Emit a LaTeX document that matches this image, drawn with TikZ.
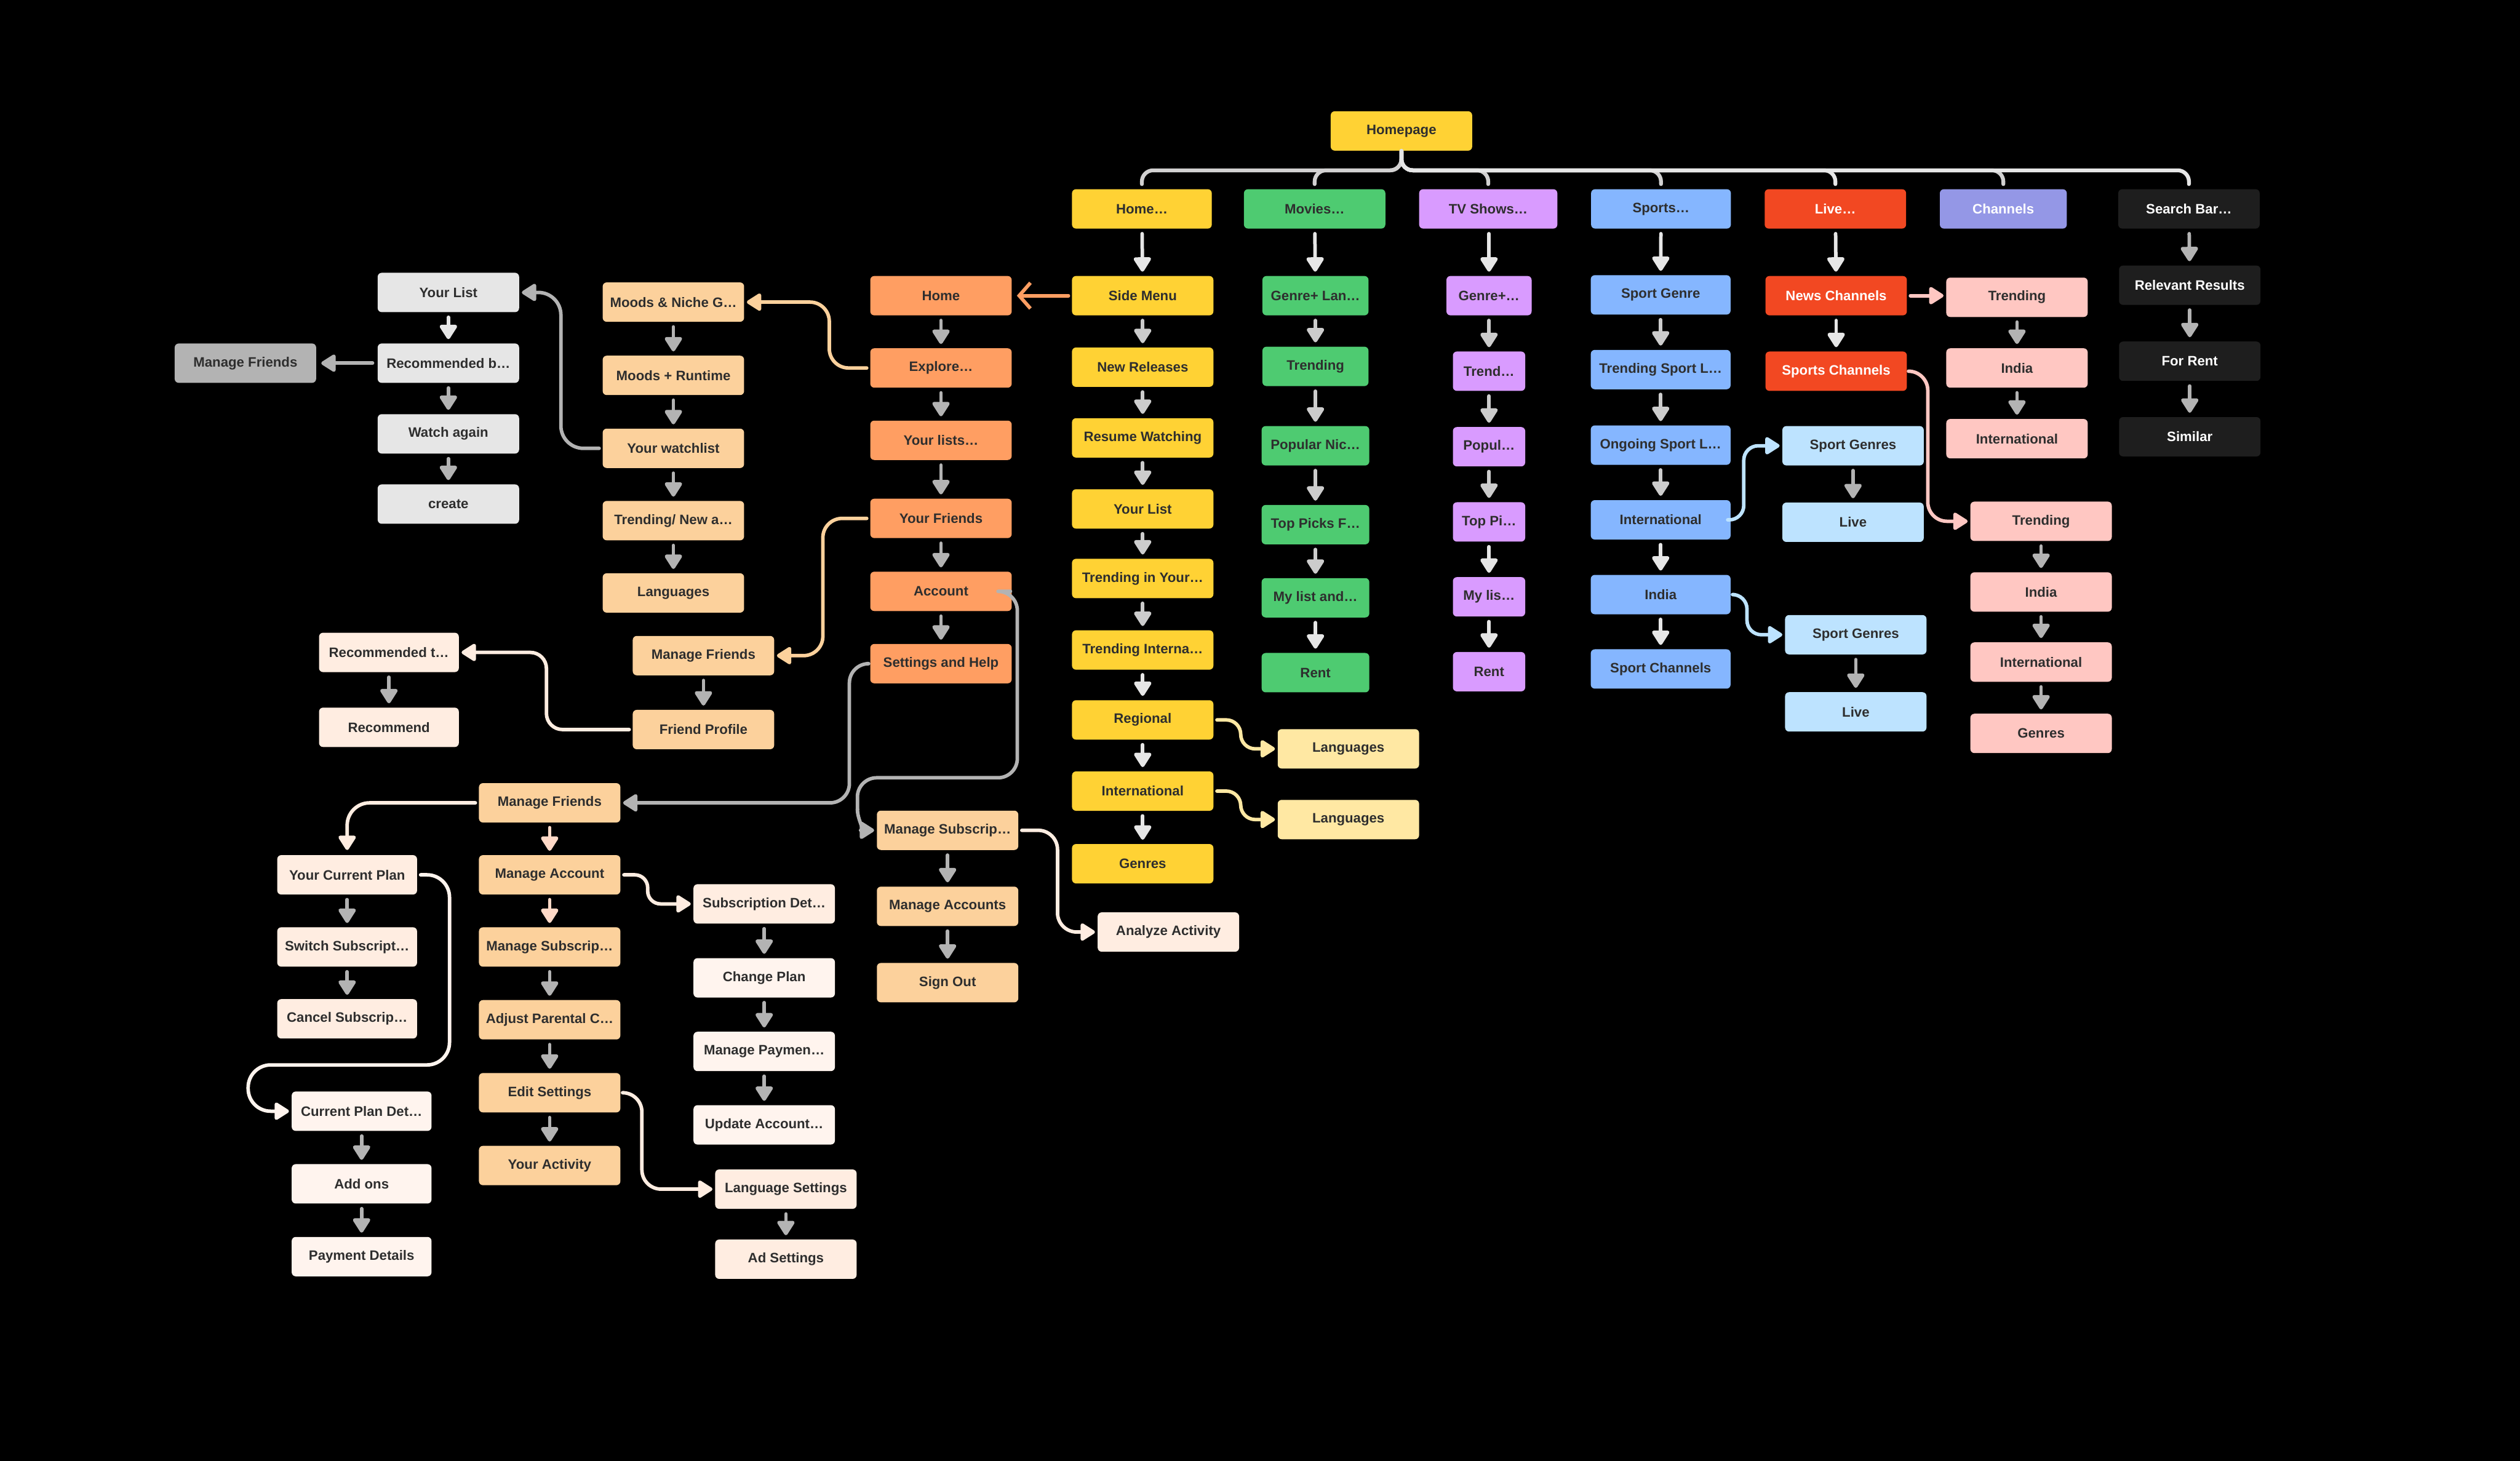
\documentclass[tikz,border=0pt]{standalone}
\usepackage{fontspec}
\setmainfont{Liberation Sans}
\usetikzlibrary{arrows.meta}
\definecolor{cYel}{HTML}{FFD234}
\definecolor{cGrn}{HTML}{4ECB71}
\definecolor{cPur}{HTML}{D99BFF}
\definecolor{cBlu}{HTML}{85B6FF}
\definecolor{cRed}{HTML}{F24822}
\definecolor{cChn}{HTML}{9497E6}
\definecolor{cDrk}{HTML}{1E1E1E}
\definecolor{cOra}{HTML}{FF9E62}
\definecolor{cPch}{HTML}{FCD19C}
\definecolor{cLpc}{HTML}{FFEDE1}
\definecolor{cWpc}{HTML}{FFF4EE}
\definecolor{cLyl}{HTML}{FFE8A3}
\definecolor{cLbl}{HTML}{BDE3FF}
\definecolor{cPnk}{HTML}{FFC7C2}
\definecolor{cLgr}{HTML}{E6E6E6}
\definecolor{cMgr}{HTML}{B3B3B3}
\definecolor{cTxt}{HTML}{2E2E2E}
\definecolor{aA}{HTML}{E6E6E6}
\definecolor{aB}{HTML}{CCCCCC}
\definecolor{aC}{HTML}{B3B3B3}
\definecolor{aP}{HTML}{FFD9C7}
\definecolor{trA}{HTML}{D2D1D1}
\definecolor{trB}{HTML}{E6E6E6}
\newcommand\bxfont{\fontsize{8.5}{9}\selectfont\bfseries}
\tikzset{
 bx/.style={rounded corners=2.5pt, minimum height=24.5pt, inner sep=0pt, font=\bxfont, text=cTxt},
 ln/.style={line width=2.2pt, line cap=round, line join=round},
 tip/.style={-{Triangle[length=10pt,width=12pt,round]}},
 va/.style={ln, tip, shorten <=3pt, shorten >=2.5pt, color=#1},
 cv/.style={ln, tip, rounded corners=#1, shorten <=2pt, shorten >=1.5pt},
 tree/.style={line width=2.4pt, line cap=round, rounded corners=7pt, color=#1},
}
\begin{document}
\begin{tikzpicture}[x=1pt,y=-1pt]
\fill[black] (0,0) rectangle (1568,909);
\useasboundingbox (0,0) rectangle (1568,909);

% ---------- top row ----------
\node[bx, fill=cYel, minimum width=88pt] (hp) at (872,81.5) {Homepage};
\node[bx, fill=cYel, minimum width=87pt] (t1) at (710.5,130) {Home…};
\node[bx, fill=cGrn, minimum width=88pt] (t2) at (818,130) {Movies…};
\node[bx, fill=cPur, minimum width=86pt] (t3) at (926,130) {TV Shows…};
\node[bx, fill=cBlu, minimum width=87pt] (t4) at (1033.5,130) {Sports…};
\node[bx, fill=cRed, minimum width=88pt, text=white] (t5) at (1142,130) {Live…};
\node[bx, fill=cChn, minimum width=79pt, text=white] (t6) at (1246.5,130) {Channels};
\node[bx, fill=cDrk, minimum width=88pt, text=white] (t7) at (1362,130) {Search Bar…};

\draw[tree=trA] (hp.south) -- (872,106) -| ([yshift=3pt]t1.north);
\draw[tree=trA] (hp.south) -- (872,106) -| ([yshift=3pt]t2.north);
\draw[tree=trA] (hp.south) -- (872,106) -| ([yshift=3pt]t3.north);
\draw[tree=trA] (hp.south) -- (872,106) -| ([yshift=3pt]t4.north);
\draw[tree=trB] (hp.south) -- (872,106) -| ([yshift=3pt]t5.north);
\draw[tree=trA] (hp.south) -- (872,106) -| ([yshift=3pt]t6.north);
\draw[tree=trB] (hp.south) -- (872,106) -| ([yshift=3pt]t7.north);

% ---------- Home column ----------
\node[bx, fill=cYel, minimum width=88pt] (sm) at (711,184) {Side Menu};
\node[bx, fill=cYel, minimum width=88pt] (nr) at (711,228.5) {New Releases};
\node[bx, fill=cYel, minimum width=88pt] (rw) at (711,272.5) {Resume Watching};
\node[bx, fill=cYel, minimum width=88pt] (ylst) at (711,316.7) {Your List};
\node[bx, fill=cYel, minimum width=88pt] (tiy) at (711,360) {Trending in Your…};
\node[bx, fill=cYel, minimum width=88pt] (tin) at (711,404.5) {Trending Interna…};
\node[bx, fill=cYel, minimum width=88pt] (reg) at (711,448) {Regional};
\node[bx, fill=cYel, minimum width=88pt] (intl) at (711,492.3) {International};
\node[bx, fill=cYel, minimum width=88pt] (gen) at (711,537.5) {Genres};
\node[bx, fill=cLyl, minimum width=88pt] (lg1) at (839,466) {Languages};
\node[bx, fill=cLyl, minimum width=88pt] (lg2) at (839,510) {Languages};

\draw[va=aA] (t1) -- (sm);
\draw[va=aB] (sm) -- (nr);
\draw[va=aB] (nr) -- (rw);
\draw[va=aB] (rw) -- (ylst);
\draw[va=aB] (ylst) -- (tiy);
\draw[va=aB] (tiy) -- (tin);
\draw[va=aA] (tin) -- (reg);
\draw[va=aA] (reg) -- (intl);
\draw[va=aA] (intl) -- (gen);
\draw[cv=9pt, color=cLyl] (reg.east) -- (772,448) -- (772,466) -- (lg1.west);
\draw[cv=9pt, color=cLyl] (intl.east) -- (772,492.3) -- (772,510) -- (lg2.west);

% ---------- Side menu (orange) ----------
\node[bx, fill=cOra, minimum width=88pt] (oh) at (585.5,184) {Home};
\node[bx, fill=cOra, minimum width=88pt] (exp) at (585.5,229) {Explore…};
\node[bx, fill=cOra, minimum width=88pt] (yls) at (585.5,274) {Your lists…};
\node[bx, fill=cOra, minimum width=88pt] (yf) at (585.5,322.6) {Your Friends};
\node[bx, fill=cOra, minimum width=88pt] (acc) at (585.5,368) {Account};
\node[bx, fill=cOra, minimum width=88pt] (sh) at (585.5,413) {Settings and Help};

\draw[ln, color=cOra, -{Straight Barb[length=7pt,width=16pt]}, shorten <=2pt, shorten >=3pt] (sm.west) -- (oh.east);
\draw[va=aC] (oh) -- (exp);
\draw[va=aC] (exp) -- (yls);
\draw[va=aC] (yls) -- (yf);
\draw[va=aC] (yf) -- (acc);
\draw[va=aC] (acc) -- (sh);

% ---------- Moods column ----------
\node[bx, fill=cPch, minimum width=88pt] (mo1) at (419,188) {Moods \& Niche G…};
\node[bx, fill=cPch, minimum width=88pt] (mo2) at (419,233.6) {Moods + Runtime};
\node[bx, fill=cPch, minimum width=88pt] (wl) at (419,279) {Your watchlist};
\node[bx, fill=cPch, minimum width=88pt] (tn) at (419,324) {Trending/ New a…};
\node[bx, fill=cPch, minimum width=88pt] (lng) at (419,369) {Languages};
\draw[cv=12pt, color=cPch] (exp.west) -- (516,229) -- (516,188) -- (mo1.east);
\draw[va=aC] (mo1) -- (mo2);
\draw[va=aC] (mo2) -- (wl);
\draw[va=aC] (wl) -- (tn);
\draw[va=aC] (tn) -- (lng);

% ---------- gray list ----------
\node[bx, fill=cLgr, minimum width=88pt] (gl1) at (279,182) {Your List};
\node[bx, fill=cLgr, minimum width=88pt] (gl2) at (279,226) {Recommended b…};
\node[bx, fill=cLgr, minimum width=88pt] (gl3) at (279,270) {Watch again};
\node[bx, fill=cLgr, minimum width=88pt] (gl4) at (279,313.7) {create};
\node[bx, fill=cMgr, minimum width=88pt] (mfg) at (152.7,226) {Manage Friends};
\draw[va=aA] (gl1) -- (gl2);
\draw[va=aC] (gl2) -- (gl3);
\draw[va=aC] (gl3) -- (gl4);
\draw[ln, tip, color=cMgr, shorten <=3pt, shorten >=3pt] (gl2.west) -- (mfg.east);
\draw[cv=14pt, color=cMgr] (wl.west) -- (349,279) -- (349,182) -- (gl1.east);

% ---------- friends ----------
\node[bx, fill=cPch, minimum width=88pt] (mf1) at (437.7,408) {Manage Friends};
\node[bx, fill=cPch, minimum width=88pt] (fp) at (437.7,454) {Friend Profile};
\node[bx, fill=cLpc, minimum width=87pt] (rt) at (242,406) {Recommended t…};
\node[bx, fill=cLpc, minimum width=87pt] (rec) at (242,452.6) {Recommend};
\draw[cv=12pt, color=cPch] (yf.west) -- (512,322.6) -- (512,408) -- (mf1.east);
\draw[va=aC] (mf1) -- (fp);
\draw[va=aC] (rt) -- (rec);
\draw[cv=10pt, color=cLpc] (fp.west) -- (340,454) -- (340,406) -- (rt.east);

% ---------- account / settings ----------
\node[bx, fill=cPch, minimum width=88pt] (ms1) at (589.6,516.7) {Manage Subscrip…};
\node[bx, fill=cPch, minimum width=88pt] (mac) at (589.6,564) {Manage Accounts};
\node[bx, fill=cPch, minimum width=88pt] (so) at (589.6,611.5) {Sign Out};
\node[bx, fill=cLpc, minimum width=88pt] (aa) at (727,580) {Analyze Activity};
\draw[ln, color=cMgr, rounded corners=12pt, shorten <=1pt] (acc.east) -- (633,368) -- (633,484) -- (533.5,484) -- (533.5,504);
\draw[ln, tip, color=cMgr, shorten >=1.5pt] (533.5,503.5) to[out=-90,in=180] (ms1.west);
\draw[va=aC] (ms1) -- (mac);
\draw[va=aC] (mac) -- (so);
\draw[cv=12pt, color=cLpc] (ms1.east) -- (658,516.7) -- (658,580) -- (aa.west);

% ---------- bottom peach column ----------
\node[bx, fill=cPch, minimum width=88pt] (mf2) at (342,499.6) {Manage Friends};
\node[bx, fill=cPch, minimum width=88pt] (ma) at (342,544.4) {Manage Account};
\node[bx, fill=cPch, minimum width=88pt] (msb) at (342,589.3) {Manage Subscrip…};
\node[bx, fill=cPch, minimum width=88pt] (apc) at (342,634.6) {Adjust Parental C…};
\node[bx, fill=cPch, minimum width=88pt] (es) at (342,680) {Edit Settings};
\node[bx, fill=cPch, minimum width=88pt] (ya) at (342,725.3) {Your Activity};
\draw[cv=12pt, color=cMgr] (sh.west) -- (528.5,413) -- (528.5,499.6) -- (mf2.east);
\draw[va=aP] (mf2) -- (ma);
\draw[va=aP] (ma) -- (msb);
\draw[va=aC] (msb) -- (apc);
\draw[va=aC] (apc) -- (es);
\draw[va=aC] (es) -- (ya);

% ---------- plan column ----------
\node[bx, fill=cLpc, minimum width=87pt] (ycp) at (216,544.4) {Your Current Plan};
\node[bx, fill=cLpc, minimum width=87pt] (ss) at (216,589.3) {Switch Subscript…};
\node[bx, fill=cLpc, minimum width=87pt] (cs) at (216,634) {Cancel Subscrip…};
\node[bx, fill=cWpc, minimum width=87pt] (cpd) at (225,691.5) {Current Plan Det…};
\node[bx, fill=cWpc, minimum width=87pt] (ao) at (225,736.7) {Add ons};
\node[bx, fill=cWpc, minimum width=87pt] (pd) at (225,782) {Payment Details};
\draw[cv=14pt, color=cLpc, shorten >=3pt] (mf2.west) -| (ycp.north);
\draw[va=aC] (ycp) -- (ss);
\draw[va=aC] (ss) -- (cs);
\draw[va=aC] (cpd) -- (ao);
\draw[va=aC] (ao) -- (pd);
\draw[cv=14pt, color=cWpc] (ycp.east) -- (279.7,544.4) -- (279.7,662.7) -- (154.4,662.7) -- (154.4,691.5) -- (cpd.west);

% ---------- subscription column ----------
\node[bx, fill=cLpc, minimum width=88pt] (sd) at (475.5,562.5) {Subscription Det…};
\node[bx, fill=cWpc, minimum width=88pt] (cp) at (475.5,608.5) {Change Plan};
\node[bx, fill=cWpc, minimum width=88pt] (mp) at (475.5,654.3) {Manage Paymen…};
\node[bx, fill=cWpc, minimum width=88pt] (ua) at (475.5,700) {Update Account…};
\node[bx, fill=cLpc, minimum width=88pt] (lset) at (489,740) {Language Settings};
\node[bx, fill=cLpc, minimum width=88pt] (ads) at (489,783.6) {Ad Settings};
\draw[cv=8pt, color=cLpc] (ma.east) -- (403,544.4) -- (403,562.5) -- (sd.west);
\draw[va=aC] (sd) -- (cp);
\draw[va=aC] (cp) -- (mp);
\draw[va=aC] (mp) -- (ua);
\draw[va=aC] (lset) -- (ads);
\draw[cv=12pt, color=cLpc] (es.east) -- (399.4,680) -- (399.4,740) -- (lset.west);

% ---------- Movies ----------
\node[bx, fill=cGrn, minimum width=66pt] (g1) at (818.5,184) {Genre+ Lan…};
\node[bx, fill=cGrn, minimum width=66pt] (g2) at (818.5,228) {Trending};
\node[bx, fill=cGrn, minimum width=67pt] (g3) at (818.5,277.4) {Popular Nic…};
\node[bx, fill=cGrn, minimum width=67pt] (g4) at (818.5,326.5) {Top Picks F…};
\node[bx, fill=cGrn, minimum width=67pt] (g5) at (818.5,372) {My list and…};
\node[bx, fill=cGrn, minimum width=67pt] (g6) at (818.5,418.6) {Rent};
\draw[va=aA] (t2) -- (g1);
\draw[va=aB] (g1) -- (g2);
\draw[va=aB] (g2) -- (g3);
\draw[va=aB] (g3) -- (g4);
\draw[va=aB] (g4) -- (g5);
\draw[va=aA] (g5) -- (g6);

% ---------- TV ----------
\node[bx, fill=cPur, minimum width=53pt] (v1) at (926.5,184) {Genre+…};
\node[bx, fill=cPur, minimum width=45pt] (v2) at (926.5,231) {Trend…};
\node[bx, fill=cPur, minimum width=45pt] (v3) at (926.5,278) {Popul…};
\node[bx, fill=cPur, minimum width=45pt] (v4) at (926.5,324.8) {Top Pi…};
\node[bx, fill=cPur, minimum width=45pt] (v5) at (926.5,371.4) {My lis…};
\node[bx, fill=cPur, minimum width=45pt] (v6) at (926.5,418) {Rent};
\draw[va=aA] (t3.south -| v1.north) -- (v1);
\draw[va=aB] (v1) -- (v2);
\draw[va=aB] (v2) -- (v3);
\draw[va=aB] (v3) -- (v4);
\draw[va=aA] (v4) -- (v5);
\draw[va=aA] (v5) -- (v6);

% ---------- Sports ----------
\node[bx, fill=cBlu, minimum width=87pt] (s1) at (1033.3,183.5) {Sport Genre};
\node[bx, fill=cBlu, minimum width=87pt] (s2) at (1033.3,230) {Trending Sport L…};
\node[bx, fill=cBlu, minimum width=87pt] (s3) at (1033.3,277) {Ongoing Sport L…};
\node[bx, fill=cBlu, minimum width=87pt] (s4) at (1033.3,323.5) {International};
\node[bx, fill=cBlu, minimum width=87pt] (s5) at (1033.3,370) {India};
\node[bx, fill=cBlu, minimum width=87pt] (s6) at (1033.3,416.3) {Sport Channels};
\draw[va=aA] (t4) -- (s1);
\draw[va=aB] (s1) -- (s2);
\draw[va=aB] (s2) -- (s3);
\draw[va=aB] (s3) -- (s4);
\draw[va=aA] (s4) -- (s5);
\draw[va=aA] (s5) -- (s6);

\node[bx, fill=cLbl, minimum width=88pt] (lb1) at (1153,277.4) {Sport Genres};
\node[bx, fill=cLbl, minimum width=88pt] (lb2) at (1153,325) {Live};
\node[bx, fill=cLbl, minimum width=88pt] (lb3) at (1154.7,395) {Sport Genres};
\node[bx, fill=cLbl, minimum width=88pt] (lb4) at (1154.7,443) {Live};
\draw[va=aC] (lb1) -- (lb2);
\draw[va=aC] (lb3) -- (lb4);
\draw[cv=9pt, color=cLbl] (s4.east) -- (1085,323.5) -- (1085,277.4) -- (lb1.west);
\draw[cv=9pt, color=cLbl] (s5.east) -- (1087,370) -- (1087,395) -- (lb3.west);

% ---------- Live ----------
\node[bx, fill=cRed, minimum width=88pt, text=white] (l1) at (1142.5,184) {News Channels};
\node[bx, fill=cRed, minimum width=88pt, text=white] (l2) at (1142.5,231) {Sports Channels};
\draw[va=aA] (t5) -- (l1);
\draw[va=aA] (l1) -- (l2);

% ---------- Channels ----------
\node[bx, fill=cPnk, minimum width=88pt] (p1) at (1255,185) {Trending};
\node[bx, fill=cPnk, minimum width=88pt] (p2) at (1255,229) {India};
\node[bx, fill=cPnk, minimum width=88pt] (p3) at (1255,273) {International};
\node[bx, fill=cPnk, minimum width=88pt] (p4) at (1270,324.4) {Trending};
\node[bx, fill=cPnk, minimum width=88pt] (p5) at (1270,368.4) {India};
\node[bx, fill=cPnk, minimum width=88pt] (p6) at (1270,412) {International};
\node[bx, fill=cPnk, minimum width=88pt] (p7) at (1270,456.4) {Genres};
\draw[ln, tip, color=cPnk, shorten <=2pt, shorten >=1.5pt] (l1.east) -- (l1.east -| p1.west);
\draw[va=aC] (p1) -- (p2);
\draw[va=aC] (p2) -- (p3);
\draw[va=aC] (p4) -- (p5);
\draw[va=aC] (p5) -- (p6);
\draw[va=aC] (p6) -- (p7);
\draw[cv=12pt, color=cPnk] (l2.east) -- (1199.5,231) -- (1199.5,324.4) -- (p4.west);

% ---------- Search ----------
\node[bx, fill=cDrk, minimum width=88pt, text=white] (r1) at (1362.5,177.5) {Relevant Results};
\node[bx, fill=cDrk, minimum width=88pt, text=white] (r2) at (1362.5,224.8) {For Rent};
\node[bx, fill=cDrk, minimum width=88pt, text=white] (r3) at (1362.5,271.8) {Similar};
\draw[va=aC] (t7) -- (r1);
\draw[va=aC] (r1) -- (r2);
\draw[va=aC] (r2) -- (r3);
\end{tikzpicture}
\end{document}
